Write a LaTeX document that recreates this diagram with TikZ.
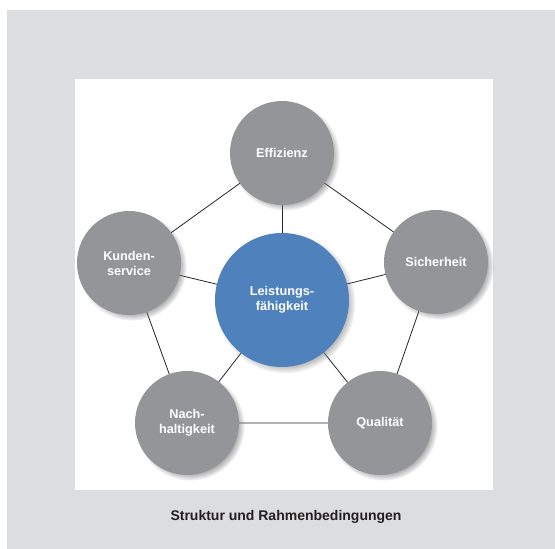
\documentclass[tikz,border=0pt]{standalone}
\usepackage{fontspec}
\setmainfont{Liberation Sans}
\usetikzlibrary{shadows}
\definecolor{bggrey}{HTML}{DCDDDE}
\definecolor{circgrey}{HTML}{939598}
\definecolor{circblue}{HTML}{4F81BD}
\definecolor{txtdark}{HTML}{231F20}
\pgfdeclarelayer{back}
\pgfdeclarelayer{lines}
\pgfsetlayers{back,lines,main}
\tikzset{
  outer/.style={circle, fill=circgrey, minimum size=104pt, inner sep=0pt,
    circular drop shadow={shadow xshift=3pt, shadow yshift=-3pt, shadow scale=1.05, opacity=0.7},
    text=white, font=\fontsize{12.7}{15}\selectfont\bfseries, align=center},
  centre/.style={outer, fill=circblue, minimum size=134pt},
  link/.style={draw=black!85, line width=0.8pt},
  caption/.style={text=txtdark, font=\fontsize{14}{16}\selectfont\bfseries}
}
\begin{document}
\begin{tikzpicture}[x=1pt,y=-1pt]
\useasboundingbox (0,0) rectangle (555,549);
\begin{pgfonlayer}{back}
\fill[bggrey] (7,10) rectangle (555,549);
\fill[white] (75,79) rectangle (493,490);
\end{pgfonlayer}
\node[outer] (eff) at (282,153) {Effizienz};
\node[outer] (sich) at (436,262) {Sicherheit};
\node[outer] (kund) at (129,263) {Kunden-\\service};
\node[outer] (nach) at (187,423) {Nach-\\haltigkeit};
\node[outer] (qual) at (380,423) {Qualität};
\node[centre] (leis) at (282,300) {Leistungs-\\fähigkeit};
\node[caption] (cap) at (286,517) {Struktur und Rahmenbedingungen};
\begin{pgfonlayer}{lines}
\draw[link] (eff.center) -- (sich.center) -- (qual.center) -- (nach.center) -- (kund.center) -- (eff.center);
\foreach \n in {eff,sich,qual,nach,kund}
  \draw[link] (leis.center) -- (\n.center);
\end{pgfonlayer}
\end{tikzpicture}
\end{document}
